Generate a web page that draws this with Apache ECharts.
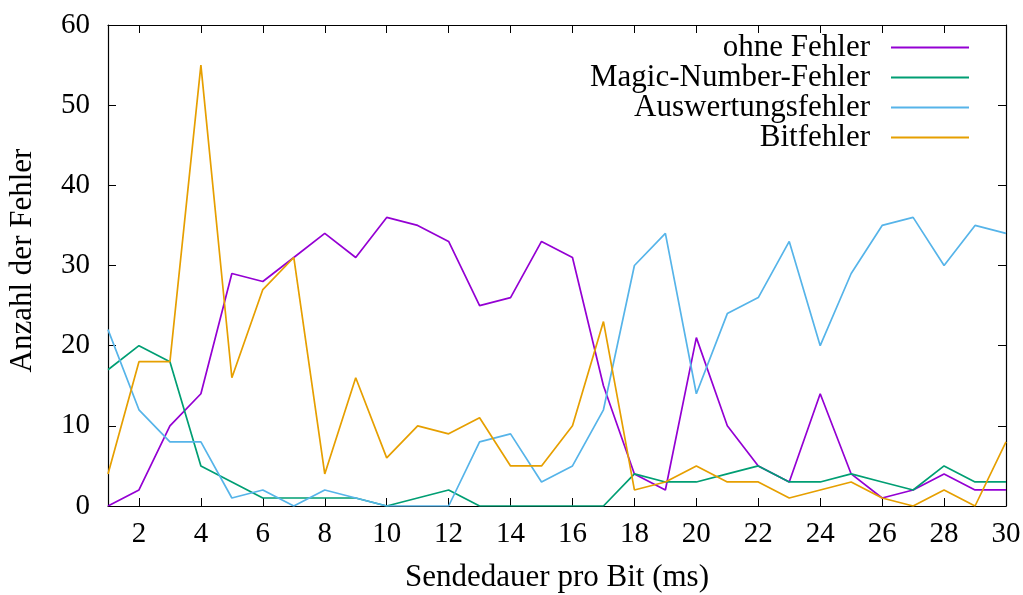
<!DOCTYPE html>
<html>
<head>
<meta charset="utf-8">
<script src="https://cdn.jsdelivr.net/npm/echarts@6/dist/echarts.min.js"></script>
<style>
html,body{margin:0;padding:0;background:#fff;}
#chart{width:1023px;height:595px;}
</style>
</head>
<body>
<div id="chart"></div>
<script>
var xValues = [1,2,3,4,5,6,7,8,9,10,11,12,13,14,15,16,17,18,19,20,21,22,23,24,25,26,27,28,29,30];
var ohneFehler = [0,2,10,14,29,28,31,34,31,36,35,33,25,26,33,31,15,4,2,21,10,5,3,14,4,1,2,4,2,2];
var magicNumberFehler = [17,20,18,5,3,1,1,1,1,0,1,2,0,0,0,0,0,4,3,3,4,5,3,3,4,3,2,5,3,3];
var auswertungsfehler = [22,12,8,8,1,2,0,2,1,0,0,0,8,9,3,5,12,30,34,14,24,26,33,20,29,35,36,30,35,34];
var bitfehler = [4,18,18,55,16,27,31,4,16,6,10,9,11,5,5,10,23,2,3,5,3,3,1,2,3,1,0,2,0,8];
var seriesNames = ['ohne Fehler','Magic-Number-Fehler','Auswertungsfehler','Bitfehler'];
var xTickValues = [2,4,6,8,10,12,14,16,18,20,22,24,26,28,30];
var xAxisTitle = 'Sendedauer pro Bit (ms)';
var yAxisTitle = 'Anzahl der Fehler';

var FONT = 'Liberation Serif';
var FS_TICK = 29;
var FS_TEXT = 31;
var colors = ['#9400d3','#009e73','#56b4e9','#e69f00'];
var dataSets = [ohneFehler, magicNumberFehler, auswertungsfehler, bitfehler];

function pairs(arr){ return xValues.map(function(x,i){ return [x, arr[i]]; }); }

var chart = echarts.init(document.getElementById('chart'), null, {renderer:'canvas'});

var legends = seriesNames.map(function(n,i){
  return {
    data:[n], right:54, top: 32 + i*30, align:'right', orient:'vertical',
    icon:'rect', itemWidth:78, itemHeight:2, itemGap:0, padding:0,
    selectedMode:false,
    textStyle:{fontFamily:FONT, fontSize:FS_TEXT, color:'#000', lineHeight:30, padding:[0,16,0,0]}
  };
});

var axisLineStyle = {show:true, onZero:false, lineStyle:{color:'#000', width:1.2}};
var tickStyle = {show:true, inside:true, length:8, lineStyle:{color:'#000', width:1}};

var option = {
  animation:false,
  backgroundColor:'#fff',
  color: colors,
  legend: legends,
  grid:{left:108, right:17, top:25, bottom:89, containLabel:false, outerBoundsMode:'none'},
  xAxis:[{
    type:'value', min:1, max:30, position:'bottom',
    name: xAxisTitle, nameLocation:'middle', nameGap:56,
    nameTextStyle:{fontFamily:FONT, fontSize:FS_TEXT, color:'#000'},
    axisLine: axisLineStyle,
    axisTick: Object.assign({customValues: xTickValues}, tickStyle),
    axisLabel:{customValues: xTickValues, fontFamily:FONT, fontSize:FS_TICK, color:'#000', margin:14},
    splitLine:{show:false}
  },{
    type:'value', min:1, max:30, position:'top',
    axisLine: axisLineStyle,
    axisTick: Object.assign({customValues: xTickValues}, tickStyle),
    axisLabel:{show:false},
    splitLine:{show:false}
  }],
  yAxis:[{
    type:'value', min:0, max:60, interval:10, position:'left',
    name: yAxisTitle, nameLocation:'middle', nameGap:70, nameRotate:90,
    nameTextStyle:{fontFamily:FONT, fontSize:FS_TEXT, color:'#000', padding:[0,0,0,10]},
    axisLine: axisLineStyle,
    axisTick: tickStyle,
    axisLabel:{fontFamily:FONT, fontSize:FS_TICK, color:'#000', margin:18},
    splitLine:{show:false}
  },{
    type:'value', min:0, max:60, interval:10, position:'right',
    axisLine: axisLineStyle,
    axisTick: tickStyle,
    axisLabel:{show:false},
    splitLine:{show:false}
  }],
  series: seriesNames.map(function(n,i){
    return {
      name:n, type:'line', data: pairs(dataSets[i]),
      xAxisIndex:0, yAxisIndex:0,
      showSymbol:false, symbol:'none',
      lineStyle:{color:colors[i], width:1.7},
      itemStyle:{color:colors[i]},
      clip:true
    };
  })
};
chart.setOption(option);
</script>
</body>
</html>
